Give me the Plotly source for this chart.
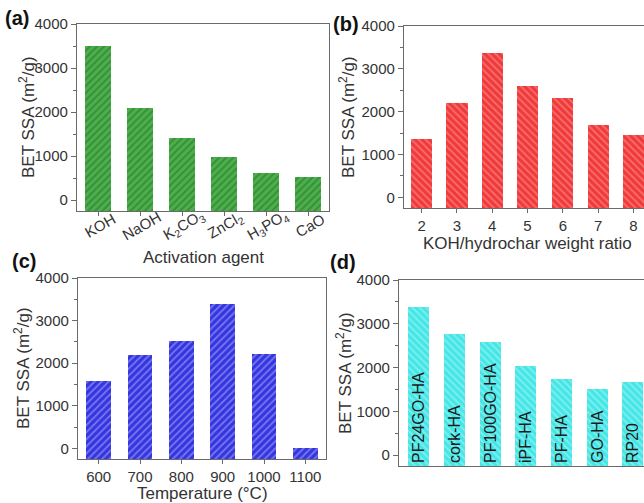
import plotly.graph_objects as go

# ---------------- data ----------------
agents = ["KOH", "NaOH", "K<sub>2</sub>CO<sub>3</sub>", "ZnCl<sub>2</sub>",
          "H<sub>3</sub>PO<sub>4</sub>", "CaO"]
ssa_agent = [3490, 2100, 1400, 970, 620, 530]

ratios = [2, 3, 4, 5, 6, 7, 8]
ssa_ratio = [1350, 2200, 3370, 2600, 2320, 1690, 1450]

temps = ["600", "700", "800", "900", "1000", "1100"]
ssa_temp = [1580, 2200, 2530, 3390, 2210, 15]

materials = ["PF24GO-HA", "cork-HA", "PF100GO-HA", "iPF-HA", "PF-HA", "GO-HA", "RP20"]
ssa_material = [3380, 2760, 2590, 2040, 1730, 1520, 1660]

y_ticks = [0, 1000, 2000, 3000, 4000]

# ---------------- layout helpers ----------------
W, H = 644, 503
Y_MIN, Y_MAX = -250, 4000
FONT = "Arial, Liberation Sans, sans-serif"


def px_x(p):
    return p / W


def px_y(p):
    return 1 - p / H


fig = go.Figure()


def add_bars(x, vals, xa, ya, bg, fg, shape, width, text=None):
    fig.add_trace(go.Bar(
        x=x,
        y=[v - Y_MIN for v in vals],
        base=Y_MIN,
        width=width,
        xaxis=xa, yaxis=ya,
        marker=dict(color=bg, line=dict(width=0),
                    pattern=dict(shape=shape, fgcolor=fg, bgcolor=bg,
                                 size=5, solidity=0.35, fillmode="overlay")),
        text=text,
        textposition="inside" if text else None,
        insidetextanchor="start",
        textangle=-90,
        constraintext="none",
        textfont=dict(family=FONT, size=16, color="#1a1a1a"),
        showlegend=False,
        hoverinfo="skip",
    ))


add_bars(list(range(len(agents))), ssa_agent, "x", "y", "#4cae4c", "#1e6e1e", "/", 0.6)
add_bars(ratios, ssa_ratio, "x2", "y2", "#f03a3a", "#ffa0a0", "\\", 0.6)
add_bars(list(range(len(temps))), ssa_temp, "x3", "y3", "#3535e0", "#b8b8ff", "/", 0.6)
add_bars(list(range(len(materials))), ssa_material, "x4", "y4", "#45e6e6", "#b5f7f7", "\\", 0.59,
         text=materials)

axis_line = dict(showline=True, linecolor="#6a6a6a", linewidth=1.3, showgrid=False,
                 zeroline=False, tickcolor="#6a6a6a",
                 tickfont=dict(family=FONT, size=15, color="#333333"))

yaxis_common = dict(axis_line, range=[Y_MIN, Y_MAX], tickvals=y_ticks, ticks="outside",
                    ticklen=5, minor=dict(tickvals=[500, 1500, 2500, 3500], ticks="outside",
                                          ticklen=3, tickcolor="#6a6a6a"))

layout = dict(
    width=W, height=H,
    margin=dict(l=0, r=0, t=0, b=0, autoexpand=False),
    paper_bgcolor="white", plot_bgcolor="white",
    font=dict(family=FONT, color="#333333"),
    bargap=0,
    # panel a (tick labels drawn as rotated annotations below)
    xaxis=dict(axis_line, domain=[px_x(77), px_x(329)], anchor="y", range=[-0.5, 5.5],
               tickvals=list(range(len(agents))), showticklabels=False,
               ticks="outside", ticklen=4, mirror=True),
    yaxis=dict(yaxis_common, domain=[px_y(211), px_y(24)], anchor="x", mirror=True),
    # panel b
    xaxis2=dict(axis_line, domain=[px_x(404), 1.0], anchor="y2", range=[1.5, 8.3],
                tickvals=ratios, ticks="outside", ticklen=4, mirror=True),
    yaxis2=dict(yaxis_common, domain=[px_y(208), px_y(26)], anchor="x2"),
    # panel c
    xaxis3=dict(axis_line, domain=[px_x(78), px_x(326)], anchor="y3", range=[-0.5, 5.5],
                tickvals=list(range(len(temps))), ticktext=temps,
                ticks="outside", ticklen=4, mirror=True),
    yaxis3=dict(yaxis_common, domain=[px_y(459), px_y(278)], anchor="x3", mirror=True),
    # panel d
    xaxis4=dict(axis_line, domain=[px_x(399), 1.0], anchor="y4", range=[-0.55, 6.31],
                showticklabels=False, ticks="", mirror=True),
    yaxis4=dict(yaxis_common, domain=[px_y(466), px_y(280)], anchor="x4"),
)
fig.update_layout(**layout)

ytitle = "BET SSA (m<sup>2</sup>/g)"
ann = []


def add_text(text, x, y, size, angle=0, bold=False, color="#333333"):
    ann.append(dict(text=f"<b>{text}</b>" if bold else text,
                    x=px_x(x), y=px_y(y), xref="paper", yref="paper",
                    showarrow=False, textangle=angle, xanchor="center", yanchor="middle",
                    font=dict(family=FONT, size=size, color=color)))


# panel a slanted category labels, centred under their ticks
for i, lab in enumerate(agents):
    ann.append(dict(text=lab, x=i, y=px_y(226), xref="x", yref="paper",
                    xshift=2, showarrow=False, textangle=-30,
                    xanchor="center", yanchor="middle",
                    font=dict(family=FONT, size=15, color="#333333")))

# y-axis titles
add_text(ytitle, 27, 117, 17, angle=-90)
add_text(ytitle, 347, 117, 17, angle=-90)
add_text(ytitle, 22, 368, 17, angle=-90)
add_text(ytitle, 344, 373, 17, angle=-90)
# x-axis titles
add_text("Activation agent", 203, 257, 17)
add_text("KOH/hydrochar weight ratio", 527, 243, 17)
add_text("Temperature (°C)", 202, 493, 17)
# panel labels
add_text("(a)", 17, 18, 20, bold=True, color="#111111")
add_text("(b)", 346, 24, 20, bold=True, color="#111111")
add_text("(c)", 24, 261, 20, bold=True, color="#111111")
add_text("(d)", 343, 262, 20, bold=True, color="#111111")

fig.update_layout(annotations=ann)

fig.write_html(
    "out.html",
    config={"displayModeBar": False},
    post_script="document.body.style.margin='0px';document.body.style.padding='0px';"
                "document.body.style.overflow='hidden';",
)
